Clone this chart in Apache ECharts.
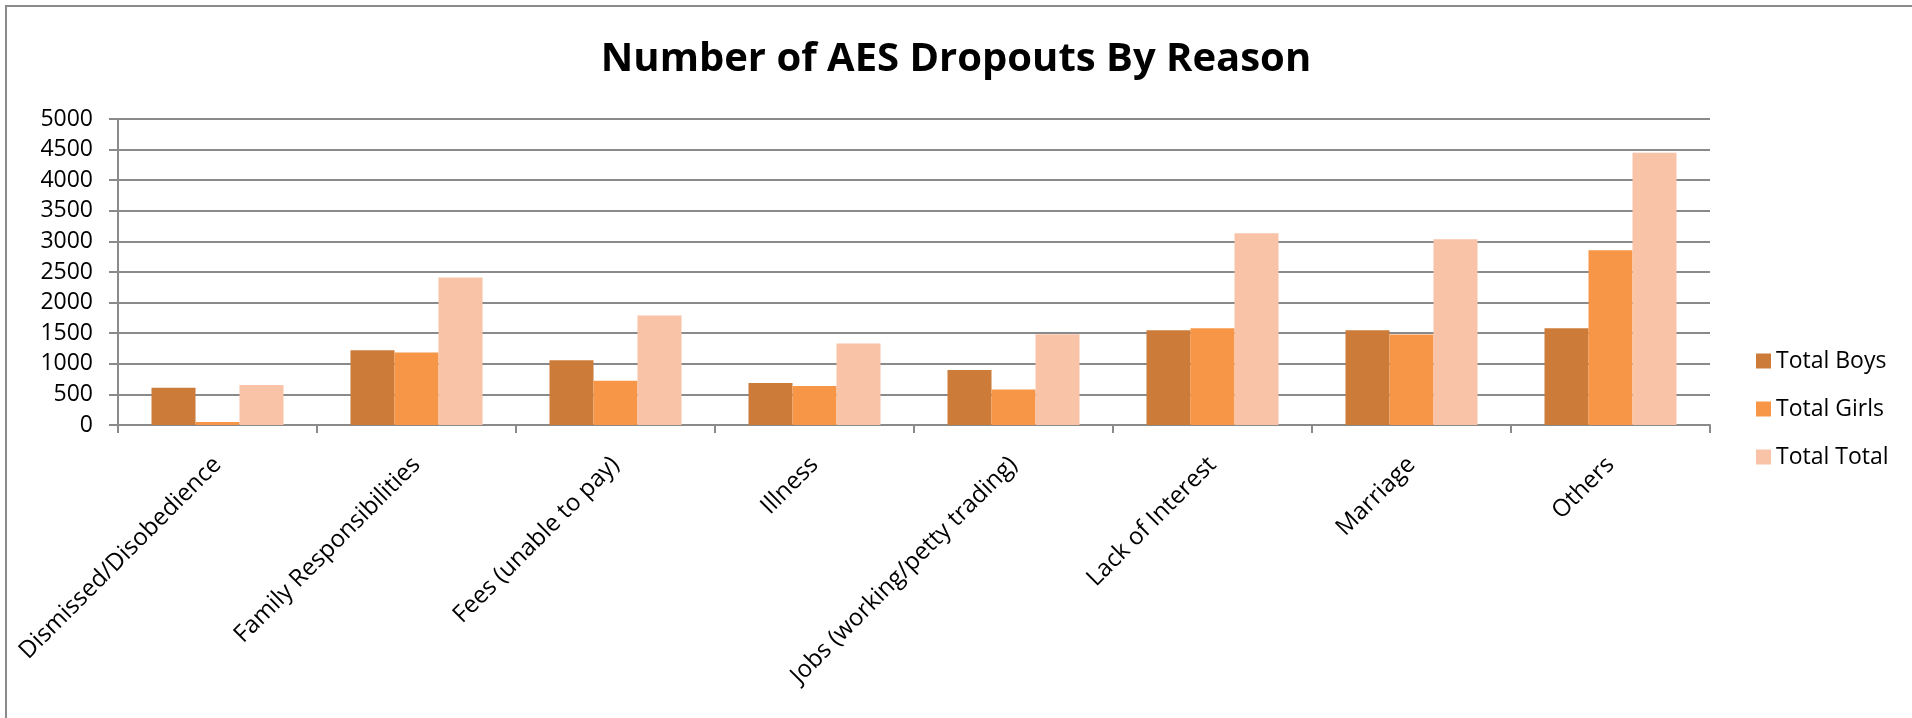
<!DOCTYPE html>
<html>
<head>
<meta charset="utf-8">
<title>Number of AES Dropouts By Reason</title>
<script src="https://cdn.jsdelivr.net/npm/echarts@6/dist/echarts.min.js"></script>
<style>
  html, body {
    margin: 0;
    padding: 0;
    background: #ffffff;
    overflow: hidden;
  }
  .frame {
    position: absolute;
    left: 5px;
    top: 5px;
    width: 2100px;
    height: 900px;
    border: 2px solid #8a8a8a;
  }
  .chart-container {
    position: absolute;
    left: 0;
    top: 0;
    width: 1912px;
    height: 718px;
  }
</style>
</head>
<body>
<div class="frame"></div>
<div id="chart" class="chart-container"></div>
<script>
const categories = [
  'Dismissed/Disobedience',
  'Family Responsibilities',
  'Fees (unable to pay)',
  'Illness',
  'Jobs (working/petty trading)',
  'Lack of Interest',
  'Marriage',
  'Others'
]
const totalBoys = [607, 1223, 1060, 685, 897, 1550, 1550, 1582]
const totalGirls = [48, 1185, 723, 636, 582, 1582, 1479, 2855]
const totalTotal = [655, 2409, 1789, 1332, 1484, 3132, 3034, 4448]

const font = '"Open Sans", "Noto Sans", sans-serif'
const gridColor = '#8a8a8a'

const myChart = echarts.init(document.getElementById('chart'))

const options = {
  animation: false,
  color: ['#cc7b38', '#f79646', '#f9c3a8'],
  title: {
    text: 'Number of AES Dropouts By Reason',
    left: 'center',
    top: 35,
    textStyle: {
      fontFamily: font,
      fontSize: 40,
      fontWeight: 'bold',
      color: '#000000'
    }
  },
  legend: {
    orient: 'vertical',
    left: 1751,
    top: 341,
    icon: 'rect',
    itemWidth: 15,
    itemHeight: 15,
    itemGap: 18,
    itemTextGap: 7,
    textStyle: {
      fontFamily: font,
      fontSize: 23,
      color: '#000000',
      lineHeight: 30
    }
  },
  grid: {
    left: 118,
    right: 202,
    top: 119,
    bottom: 293
  },
  xAxis: {
    type: 'category',
    data: categories,
    axisLine: {
      lineStyle: { color: gridColor, width: 2 }
    },
    axisTick: {
      show: true,
      length: 8,
      lineStyle: { color: gridColor, width: 2 }
    },
    axisLabel: {
      rotate: 45,
      margin: 36,
      interval: 0,
      fontFamily: font,
      fontSize: 24,
      color: '#000000'
    }
  },
  yAxis: {
    type: 'value',
    min: 0,
    max: 5000,
    interval: 500,
    axisLine: {
      show: true,
      lineStyle: { color: gridColor, width: 2 }
    },
    axisTick: {
      show: true,
      length: 9,
      lineStyle: { color: gridColor, width: 2 }
    },
    axisLabel: {
      margin: 25,
      fontFamily: font,
      fontSize: 23,
      color: '#000000',
      formatter: v => String(v) // no thousands separator
    },
    splitLine: {
      lineStyle: { color: gridColor, width: 2 }
    }
  },
  series: [
    {
      name: 'Total Boys',
      type: 'bar',
      data: totalBoys,
      barWidth: 44,
      barGap: '0%'
    },
    {
      name: 'Total Girls',
      type: 'bar',
      data: totalGirls,
      barWidth: 44,
      barGap: '0%'
    },
    {
      name: 'Total Total',
      type: 'bar',
      data: totalTotal,
      barWidth: 44,
      barGap: '0%'
    }
  ]
}
myChart.setOption(options)
</script>
</body>
</html>
